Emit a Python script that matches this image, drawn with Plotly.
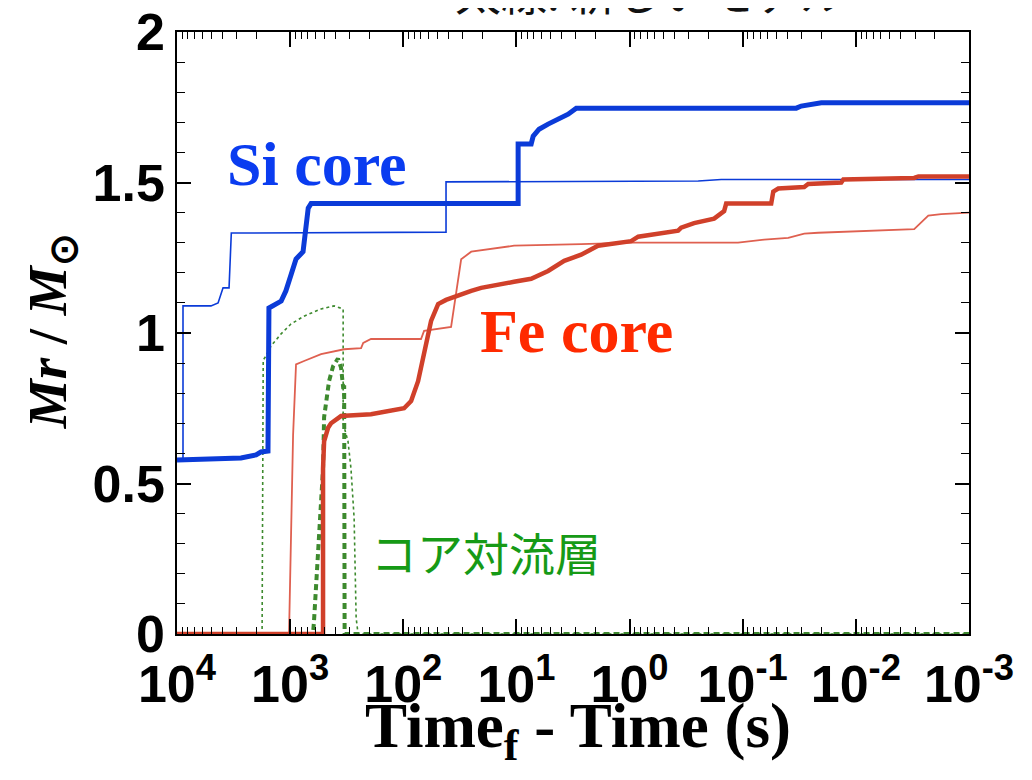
import plotly.graph_objects as go

# ---- data (time before collapse in s, enclosed mass in Msun) ----
si_new_t = [1e4, 2720, 2000, 1810, 1570, 1540, 1200, 1090, 977, 887, 769, 724, 692, 653,
            9.66, 9.66, 7.41, 7.11, 6.31, 5.25, 4.27, 3.49, 2.96, 0.0336, 0.0304, 0.0202, 0.001]
si_new_m = [0.578, 0.585, 0.595, 0.605, 0.608, 1.083, 1.106, 1.14, 1.196, 1.246, 1.27, 1.37, 1.415, 1.43,
            1.43, 1.628, 1.628, 1.654, 1.677, 1.694, 1.711, 1.727, 1.747, 1.747, 1.754, 1.765, 1.765]

si_old_t = [1e4, 8850, 8850, 5010, 4335, 3917, 3467, 3311, 41.9, 41.9, 0.247, 0.155, 0.001]
si_old_m = [0.578, 0.578, 1.09, 1.09, 1.10, 1.15, 1.15, 1.332, 1.335, 1.502, 1.505, 1.51, 1.51]

fe_new_t = [1e4, 512, 512, 501, 462, 435, 355, 193, 98.4, 85.3, 74.0, 65.5, 56.8, 49.2, 41.9, 25.1,
            20.5, 10.5, 7.41, 5.25, 3.78, 2.68, 1.90, 0.968, 0.839, 0.372, 0.35, 0.269, 0.179, 0.146,
            0.140, 0.056, 0.0537, 0.0485, 0.0286, 0.0264, 0.01346, 0.0129, 0.00305, 0.0028, 0.001]
fe_new_m = [0, 0, 0.55, 0.64, 0.685, 0.70, 0.724, 0.73, 0.75, 0.774, 0.84, 0.94, 1.04, 1.096, 1.11, 1.14,
            1.15, 1.17, 1.18, 1.206, 1.24, 1.26, 1.29, 1.305, 1.32, 1.34, 1.35, 1.365, 1.38, 1.405,
            1.43, 1.43, 1.47, 1.48, 1.485, 1.495, 1.50, 1.51, 1.515, 1.52, 1.52]

fe_old_t = [1e4, 1023, 942, 887, 753, 533, 333, 236, 226, 193, 69.7, 65.5, 37.8, 34.1, 30.8, 25.1,
            14.5, 10.5, 2.68, 0.968, 0.110, 0.0646, 0.0396, 0.0286, 0.0215, 0.00305, 0.00229, 0.00176, 0.001]
fe_old_m = [0, 0, 0.66, 0.896, 0.907, 0.93, 0.946, 0.95, 0.967, 0.98, 0.98, 1.007, 1.02, 1.14, 1.245, 1.27,
            1.283, 1.29, 1.295, 1.30, 1.30, 1.31, 1.316, 1.33, 1.333, 1.345, 1.39, 1.395, 1.40]

cv_old_t = [1e4, 1770, 1730, 1633, 1476, 1202, 982, 753, 533, 409, 340, 340, 308, 290, 272, 261, 251, 0.001]
cv_old_m = [0, 0, 0.91, 0.924, 0.957, 0.997, 1.03, 1.056, 1.08, 1.09, 1.08, 0.70, 0.64, 0.55, 0.385, 0.053, 0, 0]

cv_new_t = [1e4, 628, 616, 590, 564, 533, 512, 501, 453, 417, 378, 355, 340, 333, 330, 0.001]
cv_new_m = [0, 0, 0.04, 0.15, 0.30, 0.45, 0.55, 0.72, 0.84, 0.89, 0.915, 0.885, 0.82, 0.82, 0, 0]

x_tickvals = [1e4, 1e3, 1e2, 1e1, 1e0, 1e-1, 1e-2, 1e-3]
x_ticktext = ["10<sup>4</sup>", "10<sup>3</sup>", "10<sup>2</sup>", "10<sup>1</sup>",
              "10<sup>0</sup>", "10<sup>-1</sup>", "10<sup>-2</sup>", "10<sup>-3</sup>"]
y_tickvals = [0, 0.5, 1, 1.5, 2]
y_ticktext = ["0", "0.5", "1", "1.5", "2"]

minor_x = [m * 10 ** e for e in range(-3, 4) for m in range(2, 10)]

BLUE = "#0b3bd8"
RED = "#d0402a"
GREEN = "#3d8a2e"

fig = go.Figure()
fig.add_trace(go.Scatter(x=cv_old_t, y=cv_old_m, mode="lines",
                         line=dict(color=GREEN, width=1.6, dash="3px,3px"), cliponaxis=False))
fig.add_trace(go.Scatter(x=si_old_t, y=si_old_m, mode="lines",
                         line=dict(color=BLUE, width=1.6), cliponaxis=False))
fig.add_trace(go.Scatter(x=fe_old_t, y=fe_old_m, mode="lines",
                         line=dict(color="#df6050", width=1.8), cliponaxis=False))
fig.add_trace(go.Scatter(x=cv_new_t, y=cv_new_m, mode="lines",
                         line=dict(color=GREEN, width=4, dash="6px,4px"), cliponaxis=False))
fig.add_trace(go.Scatter(x=fe_new_t, y=fe_new_m, mode="lines",
                         line=dict(color=RED, width=4.5), cliponaxis=False))
fig.add_trace(go.Scatter(x=si_new_t, y=si_new_m, mode="lines",
                         line=dict(color=BLUE, width=5), cliponaxis=False))

fig.update_layout(
    width=1032, height=780,
    margin=dict(l=169, r=71, t=24, b=154, autoexpand=False),
    paper_bgcolor="white", plot_bgcolor="white",
    showlegend=False,
    xaxis=dict(type="log", range=[4, -3], tickvals=x_tickvals, ticktext=x_ticktext,
               automargin=False, ticklabeloverflow="allow",
               ticks="inside", ticklen=15, tickwidth=1.5, tickcolor="black",
               minor=dict(tickvals=minor_x, ticks="inside", ticklen=7, tickwidth=1, tickcolor="black"),
               showline=True, linecolor="black", linewidth=1.5, mirror="ticks",
               showgrid=False, zeroline=False, ticklabelstandoff=4,
               tickfont=dict(family="Liberation Sans", size=52, color="black", weight="bold")),
    yaxis=dict(range=[0, 2], tickvals=y_tickvals, ticktext=y_ticktext,
               automargin=False, ticklabeloverflow="allow",
               ticks="inside", ticklen=14, tickwidth=1.5, tickcolor="black",
               minor=dict(dtick=0.1, ticks="inside", ticklen=8, tickwidth=1, tickcolor="black"),
               showline=True, linecolor="black", linewidth=1.5, mirror="ticks",
               showgrid=False, zeroline=False, ticklabelstandoff=0,
               tickfont=dict(family="Liberation Sans", size=52, color="black", weight="bold")),
)

serif = "Liberation Serif"
ann = dict(xref="paper", yref="paper", showarrow=False, xanchor="center", yanchor="middle")
fig.add_annotation(**ann, x=0.177, y=0.781, text="<b>Si core</b>",
                   font=dict(family=serif, size=62, color="#0a3cf0"))
fig.add_annotation(**ann, x=0.505, y=0.503, text="<b>Fe core</b>",
                   font=dict(family=serif, size=62, color="#ff2a00"))
fig.add_annotation(**ann, x=0.390, y=0.138, text="コア対流層",
                   font=dict(family="Noto Sans CJK JP", size=46, color="#169a16"))
fig.add_annotation(**ann, x=0.598, y=1.069, text="太線: 新しいモデル",
                   font=dict(family="Noto Sans CJK JP", size=46, color="#111111"))
fig.add_annotation(**ann, x=-0.159, y=0.503, textangle=-90,
                   text="<b><i>Mr</i> / <i>M</i><sub>⊙</sub></b>",
                   font=dict(family=serif, size=55, color="black"))
fig.add_annotation(xref="paper", yref="paper", showarrow=False, xanchor="center", yanchor="top",
                   x=0.506, y=-0.091, text="<b>Time<sub>f</sub> - Time (s)</b>",
                   font=dict(family=serif, size=63, color="black"))

fig.write_html("out.html")
